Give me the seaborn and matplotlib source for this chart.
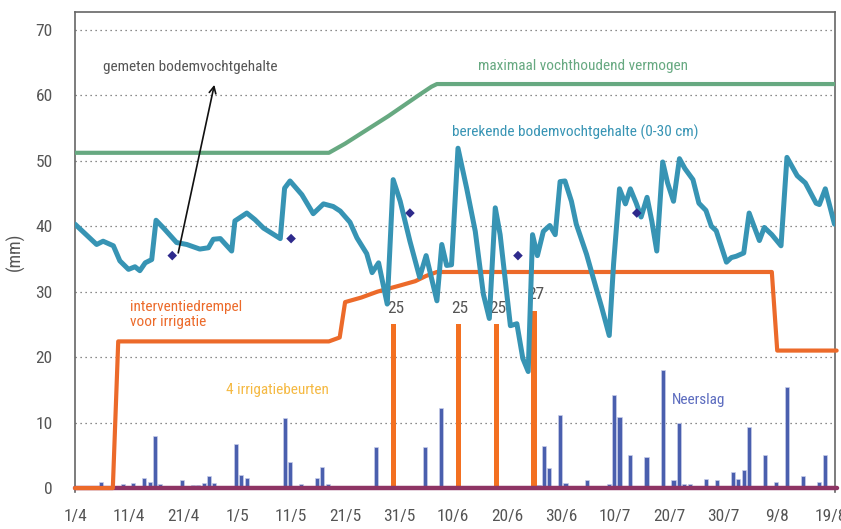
import numpy as np
import pandas as pd
import matplotlib
matplotlib.use("Agg")
import matplotlib.pyplot as plt
from matplotlib import font_manager
import seaborn as sns

# dagen gerekend vanaf 1 april (dag 0)
tick_days = [0, 10, 20, 30, 40, 50, 60, 70, 80, 90, 100, 110, 120, 130, 140]
tick_labels = ["1/4", "11/4", "21/4", "1/5", "11/5", "21/5", "31/5", "10/6",
               "20/6", "30/6", "10/7", "20/7", "30/7", "9/8", "19/8"]

# berekende bodemvochtgehalte (0-30 cm)
calc_day = [0, 4.0, 5.2, 7.1, 8.3, 9.9, 11.1, 12.0, 13.0, 14.2, 15.0, 16.4, 18.8, 20.7,
            23.1, 24.7, 25.6, 26.9, 29.0, 29.6, 31.8, 33.3, 34.9, 38.0, 38.8, 39.8, 42.0,
            44.1, 46.0, 47.8, 49.1, 50.9, 52.2, 54.0, 55.0, 56.2, 57.8, 58.9, 60.2, 62.0,
            63.8, 65.0, 67.0, 67.9, 68.8, 69.7, 70.9, 72.5, 74.1, 75.6, 76.7, 77.8, 78.7,
            80.6, 81.8, 82.9, 83.9, 84.7, 85.6, 86.7, 87.9, 88.9, 89.8, 90.7, 91.9, 92.8,
            94.7, 95.9, 97.5, 98.9, 99.7, 100.8, 101.9, 102.8, 103.9, 104.8, 105.9, 106.8,
            107.7, 108.8, 109.7, 110.8, 111.9, 112.9, 114.4, 115.5, 116.8, 117.8, 118.7,
            120.6, 121.5, 122.4, 123.8, 124.8, 125.7, 126.7, 127.6, 129.0, 130.7, 131.8,
            133.7, 135.2, 137.2, 137.8, 138.9, 140.6]
calc_val = [40.3, 37.2, 37.7, 37.0, 34.7, 33.4, 33.8, 33.2, 34.4, 34.9, 40.9, 39.7, 37.5, 37.2,
            36.5, 36.7, 38.0, 38.1, 36.2, 40.8, 42.0, 41.0, 39.7, 38.1, 45.8, 46.9, 44.8,
            41.9, 43.4, 43.0, 42.3, 40.6, 38.2, 35.8, 32.9, 34.4, 28.1, 47.1, 43.8, 37.7,
            32.2, 35.5, 28.6, 37.2, 34.0, 34.1, 51.9, 45.8, 39.2, 29.6, 25.9, 42.8, 38.7,
            24.8, 25.1, 19.8, 17.8, 38.7, 35.5, 39.2, 40.1, 38.7, 46.8, 46.9, 43.8, 40.3,
            35.7, 32.2, 27.6, 23.3, 34.2, 45.7, 43.4, 45.7, 43.5, 41.4, 44.4, 40.7,
            36.2, 49.8, 46.6, 43.8, 50.3, 48.8, 47.1, 43.5, 42.4, 40.0, 39.3,
            34.5, 35.2, 35.4, 35.9, 42.0, 40.0, 37.8, 39.8, 38.7, 37.0, 50.5,
            47.7, 46.6, 43.5, 43.3, 45.7, 40.3]

# gemeten bodemvochtgehalte
meas_day = [18, 40, 62, 82, 104]
meas_val = [35.5, 38.1, 42.0, 35.5, 42.0]

# maximaal vochthoudend vermogen
max_day = [0, 47, 50, 54, 58, 61, 64, 66, 67, 141]
max_val = [51.2, 51.2, 52.6, 54.7, 56.8, 58.5, 60.2, 61.3, 61.7, 61.7]

# interventiedrempel voor irrigatie
thr_day = [0, 7, 8, 47, 49, 50, 53, 56, 60, 63, 65, 67, 129, 130, 141]
thr_val = [0, 0, 22.4, 22.4, 23.0, 28.4, 29.1, 30.0, 30.9, 31.6, 32.4, 33.0, 33.0, 21.0, 21.0]

# irrigatiebeurten
irr_day = [59, 71, 78, 85]
irr_mm = [25, 25, 25, 27]

# neerslag
rain_day = [4, 8, 10, 12, 13, 14, 15, 19, 21, 22, 23, 24, 25, 29, 30, 31, 38, 39, 41, 44,
            45, 46, 55, 64, 67, 80, 82, 85, 86, 87, 89, 90, 94, 98, 99, 100, 102, 105, 108,
            110, 111, 112, 113, 114, 116, 118, 121, 122, 123, 124, 127, 129, 131, 133, 134,
            137, 138]
rain_mm = [1.0, 0.6, 0.8, 1.6, 1.0, 7.9, 0.6, 1.2, 0.4, 0.4, 0.8, 1.8, 0.8, 6.8, 2.0, 1.6,
           10.7, 4.0, 0.6, 1.6, 3.2, 0.6, 6.2, 6.2, 12.3, 0.2, 0.2, 0.4, 6.4, 3.1, 11.2, 0.8,
           1.2, 0.6, 14.2, 10.9, 5.1, 4.7, 18.0, 1.2, 9.9, 0.6, 0.6, 0.2, 1.4, 1.2, 2.5, 1.4,
           2.7, 9.3, 5.1, 1.0, 15.5, 0.2, 1.8, 1.0, 5.1]

BLUE = "#3794b4"
GREEN = "#67a981"
ORANGE = "#ec6a2a"
RAIN = "#4a5fae"
PURPLE = "#8e3464"
GREY = "#555555"

sns.set_theme(style="white")

# smalle letter zoeken, anders DejaVu Sans condensed
installed = {f.name for f in font_manager.fontManager.ttflist}
narrow = [n for n in ["Liberation Sans Narrow", "Roboto Condensed", "Open Sans Condensed"]
          if n in installed]
plt.rcParams["font.family"] = narrow + ["DejaVu Sans"]
plt.rcParams["font.stretch"] = "condensed"

fig = plt.figure(figsize=(8.41, 5.29), dpi=100)
ax = fig.add_axes([0.0892, 0.0699, 0.9037, 0.9074])

# neerslag en irrigatie
ax.bar(np.array(rain_day) + 0.8, rain_mm, width=0.75, color=RAIN,
       edgecolor="#c9cfea", linewidth=0.5, zorder=2)
ax.bar(irr_day, irr_mm, width=1.0, color="#f37021", linewidth=0, zorder=2)
for d, v in zip(irr_day, irr_mm):
    ax.text(d + 0.3, v + 2.5, str(v), ha="center", va="center", fontsize=12.5, color=GREY)

# nullijn
sns.lineplot(x=[0, 141], y=[0, 0], color=PURPLE, linewidth=3.2, ax=ax,
             estimator=None, clip_on=False, zorder=3)

sns.lineplot(x=max_day, y=max_val, color=GREEN, linewidth=3.0, ax=ax,
             estimator=None, sort=False, zorder=4)
sns.lineplot(x=thr_day, y=thr_val, color=ORANGE, linewidth=3.0, ax=ax,
             estimator=None, sort=False, clip_on=False, zorder=4)
sns.lineplot(x=calc_day, y=calc_val, color=BLUE, linewidth=3.6, ax=ax,
             estimator=None, sort=False, zorder=5)
sns.scatterplot(x=meas_day, y=meas_val, marker="D", s=24, color="#2e2a8c",
                edgecolor="none", ax=ax, zorder=6)

# labels
ax.annotate("", xy=(25.9, 62.0), xytext=(19.0, 35.5),
            arrowprops=dict(arrowstyle="->", color="#111111", lw=1.2), zorder=7)
ax.text(21.3, 64.3, "gemeten bodemvochtgehalte", ha="center", va="center",
        fontsize=11, color=GREY)
ax.text(94.0, 64.4, "maximaal vochthoudend vermogen", ha="center", va="center",
        fontsize=11, color=GREEN)
ax.text(92.6, 54.4, "berekende bodemvochtgehalte (0-30 cm)", ha="center", va="center",
        fontsize=11, color=BLUE)
ax.text(10.2, 26.5, "interventiedrempel\nvoor irrigatie", ha="left", va="center",
        fontsize=11, color=ORANGE, linespacing=1.15)
ax.text(37.5, 15.0, "4 irrigatiebeurten", ha="center", va="center",
        fontsize=11, color="#f5b942")
ax.text(115.5, 13.5, "Neerslag", ha="center", va="center", fontsize=11, color="#5b6bbf")

ax.set_xlim(0, 140.7)
ax.set_ylim(-0.6, 72.7)
ax.set_xticks(tick_days)
ax.set_xticklabels(tick_labels)
ax.set_yticks(range(0, 80, 10))
ax.yaxis.grid(True, linestyle=(0, (1, 3)), color="#666666", linewidth=0.9)
ax.set_axisbelow(True)
ax.set_ylabel("(mm)", fontsize=13, color=GREY, labelpad=8)

ax.spines["bottom"].set_position(("data", 0))
ax.spines["bottom"].set_visible(False)
for s in ["left", "top", "right"]:
    ax.spines[s].set_color("#666666")
    ax.spines[s].set_linewidth(1.2)
ax.tick_params(axis="both", colors="#666666", labelcolor=GREY, labelsize=12.5,
               direction="out", length=6, width=1.2)
ax.tick_params(axis="x", pad=9)
ax.tick_params(axis="y", pad=10)

fig.savefig("out.png", dpi=100)
